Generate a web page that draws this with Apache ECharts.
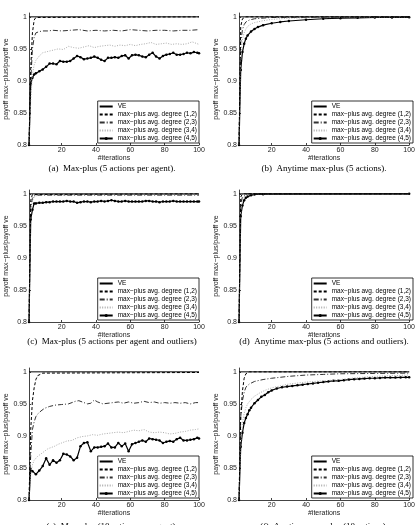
<!DOCTYPE html>
<html>
<head>
<meta charset="utf-8">
<script src="https://cdn.jsdelivr.net/npm/echarts@6/dist/echarts.min.js"></script>
<style>
html, body { margin: 0; padding: 0; background: #fff; }
#main { width: 418px; height: 525px; }
</style>
</head>
<body>
<div id="main"></div>
<script>
// 图例名称
var seriesNames = ['VE', 'max−plus avg. degree (1,2)', 'max−plus avg. degree (2,3)', 'max−plus avg. degree (3,4)', 'max−plus avg. degree (4,5)'];
var xTicks = [20, 40, 60, 80, 100];
var captions = [
	'(a)  Max-plus (5 actions per agent).',
	'(b)  Anytime max-plus (5 actions).',
	'(c)  Max-plus (5 actions per agent and outliers)',
	'(d)  Anytime max-plus (5 actions and outliers).',
	'(e)  Max-plus (10 actions per agent).',
	'(f)  Anytime max-plus (10 actions).'
];

// VE
var veLine = [[1, 1], [100, 1]];

// (a) Max-plus 5 actions
var aDeg12 = [[1, 0.8], [2, 0.92], [3, 0.975], [4, 0.995], [5, 0.999], [6, 1], [100, 1]];
var aDeg23 = [[1, 0.8], [2, 0.9], [3, 0.95], [4, 0.968], [5, 0.975], [7, 0.977], [9, 0.978], [12, 0.978], [15, 0.979], [20, 0.978], [25, 0.979], [30, 0.98], [35, 0.978], [40, 0.979], [45, 0.978], [50, 0.979], [55, 0.978], [60, 0.98], [65, 0.979], [70, 0.978], [75, 0.979], [80, 0.979], [85, 0.978], [90, 0.979], [95, 0.979], [100, 0.98]];
var aDeg34 = [[1, 0.8], [2, 0.87], [3, 0.91], [4, 0.925], [5, 0.932], [7, 0.939], [9, 0.944], [12, 0.946], [15, 0.948], [18, 0.95], [21, 0.949], [24, 0.954], [27, 0.952], [30, 0.951], [33, 0.953], [36, 0.955], [39, 0.952], [42, 0.954], [45, 0.955], [48, 0.956], [51, 0.954], [54, 0.956], [57, 0.955], [60, 0.957], [63, 0.955], [66, 0.957], [69, 0.958], [72, 0.96], [75, 0.957], [78, 0.958], [81, 0.959], [84, 0.957], [87, 0.958], [90, 0.957], [93, 0.958], [96, 0.961], [100, 0.957]];
var aDeg45 = [[1, 0.8], [2, 0.895], [3, 0.905], [4, 0.91], [5, 0.912], [7, 0.915], [9, 0.918], [11, 0.922], [13, 0.927], [15, 0.927], [17, 0.926], [19, 0.931], [21, 0.93], [23, 0.93], [25, 0.931], [27, 0.935], [29, 0.939], [31, 0.937], [33, 0.934], [35, 0.935], [37, 0.936], [39, 0.938], [41, 0.936], [43, 0.933], [45, 0.931], [47, 0.936], [49, 0.936], [51, 0.937], [53, 0.936], [55, 0.939], [57, 0.94], [59, 0.935], [61, 0.94], [63, 0.941], [65, 0.94], [67, 0.938], [69, 0.937], [71, 0.941], [73, 0.944], [75, 0.938], [77, 0.935], [79, 0.939], [81, 0.941], [83, 0.942], [85, 0.944], [87, 0.941], [89, 0.941], [91, 0.942], [93, 0.944], [95, 0.943], [97, 0.945], [99, 0.944], [100, 0.943]];

// (b) Anytime max-plus 5 actions
var bDeg12 = [[1, 0.8], [2, 0.985], [3, 0.997], [4, 0.999], [5, 1], [100, 1]];
var bDeg23 = [[1, 0.8], [2, 0.96], [3, 0.98], [4, 0.988], [5, 0.992], [7, 0.995], [10, 0.997], [15, 0.998], [20, 0.999], [40, 0.9995], [100, 1]];
var bDeg34 = [[1, 0.8], [2, 0.94], [3, 0.965], [4, 0.975], [5, 0.981], [6, 0.985], [8, 0.989], [10, 0.991], [15, 0.994], [20, 0.996], [30, 0.998], [40, 0.9985], [60, 0.999], [100, 0.9995]];
var bDeg45 = [[1, 0.8], [2, 0.917], [3, 0.945], [4, 0.958], [5, 0.966], [6, 0.971], [8, 0.977], [10, 0.981], [12, 0.984], [15, 0.987], [20, 0.99], [25, 0.992], [30, 0.9935], [40, 0.9955], [50, 0.997], [60, 0.998], [70, 0.9985], [80, 0.999], [90, 0.999], [100, 0.9992]];

// (c) Max-plus 5 actions + outliers
var cDeg12 = [[1, 0.8], [2, 0.99], [3, 0.999], [100, 1]];
var cDeg23 = [[1, 0.8], [2, 0.98], [3, 0.993], [4, 0.997], [6, 0.998], [100, 0.998]];
var cDeg34 = [[1, 0.8], [2, 0.975], [3, 0.99], [4, 0.995], [6, 0.998], [10, 0.999], [20, 0.998], [30, 0.999], [50, 0.999], [100, 0.999]];
var cDeg45 = [[1, 0.8], [2, 0.96], [3, 0.975], [4, 0.985], [5, 0.985], [7, 0.986], [9, 0.986], [11, 0.987], [13, 0.987], [15, 0.988], [17, 0.988], [19, 0.988], [21, 0.988], [23, 0.989], [25, 0.988], [27, 0.988], [29, 0.986], [31, 0.987], [33, 0.988], [35, 0.988], [37, 0.987], [39, 0.988], [41, 0.988], [43, 0.989], [45, 0.988], [47, 0.989], [49, 0.99], [51, 0.989], [53, 0.988], [55, 0.988], [57, 0.989], [59, 0.988], [61, 0.988], [63, 0.988], [65, 0.988], [67, 0.988], [69, 0.989], [71, 0.989], [73, 0.988], [75, 0.988], [77, 0.987], [79, 0.988], [81, 0.988], [83, 0.988], [85, 0.989], [87, 0.988], [89, 0.988], [91, 0.988], [93, 0.988], [95, 0.988], [97, 0.988], [99, 0.988], [100, 0.988]];

// (d) Anytime max-plus 5 actions + outliers
var dDeg12 = [[1, 0.8], [2, 0.995], [3, 1], [100, 1]];
var dDeg23 = [[1, 0.8], [2, 0.985], [3, 0.995], [4, 0.998], [6, 1], [100, 1]];
var dDeg34 = [[1, 0.8], [2, 0.975], [3, 0.99], [4, 0.995], [5, 0.997], [7, 0.999], [10, 1], [100, 1]];
var dDeg45 = [[1, 0.8], [2, 0.965], [3, 0.982], [4, 0.99], [5, 0.994], [6, 0.996], [8, 0.998], [10, 0.999], [15, 0.9995], [100, 1]];

// (e) Max-plus 10 actions
var eDeg12 = [[1, 0.8], [2, 0.91], [3, 0.955], [4, 0.975], [5, 0.988], [6, 0.994], [7, 0.997], [9, 0.998], [100, 0.999]];
var eDeg23 = [[1, 0.8], [2, 0.87], [3, 0.91], [4, 0.922], [5, 0.93], [6, 0.934], [8, 0.939], [10, 0.943], [13, 0.946], [16, 0.948], [20, 0.949], [24, 0.95], [28, 0.954], [30, 0.955], [32, 0.953], [35, 0.95], [37, 0.951], [39, 0.956], [41, 0.953], [44, 0.95], [47, 0.951], [50, 0.952], [53, 0.953], [56, 0.951], [59, 0.953], [62, 0.951], [65, 0.952], [68, 0.954], [71, 0.952], [74, 0.953], [77, 0.951], [80, 0.952], [83, 0.951], [86, 0.952], [89, 0.951], [92, 0.952], [95, 0.95], [98, 0.952], [100, 0.952]];
var eDeg34 = [[1, 0.8], [2, 0.84], [3, 0.855], [4, 0.862], [6, 0.868], [8, 0.872], [10, 0.876], [12, 0.88], [14, 0.882], [16, 0.884], [18, 0.887], [20, 0.889], [23, 0.892], [26, 0.893], [29, 0.897], [32, 0.899], [35, 0.9], [38, 0.902], [41, 0.901], [44, 0.903], [47, 0.904], [50, 0.905], [53, 0.906], [56, 0.905], [59, 0.907], [62, 0.909], [65, 0.908], [68, 0.91], [71, 0.906], [74, 0.905], [77, 0.906], [80, 0.905], [83, 0.903], [86, 0.904], [89, 0.906], [92, 0.907], [95, 0.909], [98, 0.91], [100, 0.911]];
var eDeg45 = [[1, 0.8], [2, 0.848], [3, 0.845], [5, 0.84], [7, 0.846], [9, 0.853], [11, 0.865], [13, 0.855], [15, 0.862], [17, 0.858], [19, 0.862], [21, 0.872], [23, 0.871], [25, 0.868], [27, 0.862], [29, 0.866], [31, 0.884], [33, 0.889], [35, 0.89], [37, 0.876], [39, 0.882], [41, 0.882], [43, 0.883], [45, 0.884], [47, 0.888], [49, 0.882], [51, 0.882], [53, 0.889], [55, 0.884], [57, 0.888], [59, 0.876], [61, 0.887], [63, 0.889], [65, 0.891], [67, 0.893], [69, 0.891], [71, 0.896], [73, 0.895], [75, 0.894], [77, 0.893], [79, 0.889], [81, 0.891], [83, 0.892], [85, 0.891], [87, 0.895], [89, 0.897], [91, 0.893], [93, 0.893], [95, 0.894], [97, 0.895], [99, 0.897], [100, 0.896]];

// (f) Anytime max-plus 10 actions
var fDeg12 = [[1, 0.8], [2, 0.93], [3, 0.97], [4, 0.99], [5, 0.997], [7, 1], [100, 1]];
var fDeg23 = [[1, 0.8], [2, 0.93], [3, 0.955], [4, 0.968], [5, 0.976], [7, 0.981], [10, 0.985], [15, 0.988], [20, 0.99], [30, 0.993], [40, 0.995], [50, 0.996], [60, 0.997], [80, 0.9975], [100, 0.998]];
var fDeg34 = [[1, 0.8], [2, 0.89], [3, 0.92], [4, 0.935], [5, 0.944], [6, 0.95], [8, 0.957], [10, 0.962], [13, 0.967], [16, 0.971], [20, 0.975], [25, 0.978], [30, 0.981], [40, 0.984], [50, 0.986], [60, 0.988], [70, 0.991], [80, 0.993], [90, 0.994], [100, 0.995]];
var fDeg45 = [[1, 0.8], [2, 0.883], [3, 0.905], [4, 0.92], [5, 0.928], [6, 0.934], [7, 0.94], [8, 0.944], [10, 0.951], [12, 0.956], [14, 0.961], [16, 0.964], [18, 0.968], [20, 0.971], [23, 0.974], [26, 0.976], [29, 0.977], [32, 0.978], [35, 0.979], [38, 0.98], [41, 0.981], [44, 0.982], [47, 0.983], [50, 0.984], [53, 0.985], [56, 0.986], [59, 0.986], [62, 0.987], [65, 0.988], [68, 0.9886], [71, 0.989], [74, 0.9895], [77, 0.99], [80, 0.99], [83, 0.9905], [86, 0.991], [89, 0.991], [92, 0.991], [95, 0.9913], [98, 0.9915], [100, 0.9915]];

var panelData = [
	[veLine, aDeg12, aDeg23, aDeg34, aDeg45],
	[veLine, bDeg12, bDeg23, bDeg34, bDeg45],
	[veLine, cDeg12, cDeg23, cDeg34, cDeg45],
	[veLine, dDeg12, dDeg23, dDeg34, dDeg45],
	[veLine, eDeg12, eDeg23, eDeg34, eDeg45],
	[veLine, fDeg12, fDeg23, fDeg34, fDeg45]
];

// 每个子图的位置
var boxes = [
	{ left: 29, top: 13, width: 170, height: 132, capY: 169 },
	{ left: 239, top: 13, width: 174, height: 132, capY: 169 },
	{ left: 29, top: 190, width: 170, height: 132, capY: 342 },
	{ left: 239, top: 190, width: 174, height: 132, capY: 342 },
	{ left: 29, top: 368, width: 170, height: 132, capY: 527 },
	{ left: 239, top: 368, width: 174, height: 132, capY: 527 }
];

var lineStyles = [
	{ color: '#000', width: 1, type: 'solid' },
	{ color: '#000', width: 1, type: [3, 2] },
	{ color: '#333', width: 1, type: [5, 2, 1, 2] },
	{ color: '#aaa', width: 1, type: [1, 1.5] },
	{ color: '#000', width: 1.2, type: 'solid' }
];

// 图例：只有 (4,5) 显示圆点
var legendItems = seriesNames.map(function (n, k) {
	return k === 4 ? { name: n } : { name: n, itemStyle: { opacity: 0 } };
});

var font = 'Liberation Sans';
var grids = [], xAxes = [], yAxes = [], legends = [], series = [], graphics = [];

boxes.forEach(function (b, i) {
	grids.push({ left: b.left, top: b.top, width: b.width, height: b.height });
	xAxes.push({
		type: 'value', gridIndex: i, min: 1, max: 100,
		name: '#iterations', nameLocation: 'middle', nameGap: 8,
		nameTextStyle: { fontFamily: font, fontSize: 7, color: '#222' },
		axisLine: { lineStyle: { color: '#444', width: 1 } },
		axisTick: { inside: true, length: 2, customValues: xTicks, lineStyle: { color: '#444' } },
		axisLabel: { customValues: xTicks, margin: 2, fontFamily: font, fontSize: 7, color: '#222' },
		splitLine: { show: false }
	});
	yAxes.push({
		type: 'value', gridIndex: i, min: 0.8, max: 1.006, interval: 0.05,
		name: 'payoff max−plus/payoff ve', nameLocation: 'middle', nameGap: 16, nameRotate: 90,
		nameTextStyle: { fontFamily: font, fontSize: 7, color: '#222' },
		axisLine: { lineStyle: { color: '#444', width: 1 } },
		axisTick: { inside: true, length: 2, lineStyle: { color: '#444' } },
		axisLabel: { showMaxLabel: false, margin: 2, fontFamily: font, fontSize: 7, color: '#222' },
		splitLine: { show: false }
	});
	legends.push({
		data: legendItems,
		orient: 'vertical',
		right: 418 - (b.left + b.width),
		top: b.top + b.height - 44,
		itemWidth: 13, itemHeight: 4, itemGap: 1,
		padding: [2, 2, 1, 1],
		borderColor: '#000', borderWidth: 0.8, borderRadius: 0,
		backgroundColor: '#fff',
		selectedMode: false,
		textStyle: { fontFamily: font, fontSize: 6.5, lineHeight: 6.5, color: '#000' }
	});
	panelData[i].forEach(function (d, k) {
		series.push({
			name: seriesNames[k],
			type: 'line',
			xAxisIndex: i, yAxisIndex: i,
			data: d,
			symbol: k === 4 ? 'circle' : 'none',
			symbolSize: 2.5,
			itemStyle: { color: '#000' },
			lineStyle: lineStyles[k],
			z: 10 - k,
			animation: false
		});
	});
	graphics.push({
		type: 'text',
		x: b.left + b.width / 2 - 2,
		y: b.capY,
		style: {
			text: captions[i], align: 'center', verticalAlign: 'middle',
			font: '9px "Liberation Serif"', fill: '#000'
		}
	});
});

var myChart = echarts.init(document.getElementById('main'));
myChart.setOption({
	backgroundColor: '#fff',
	animation: false,
	grid: grids,
	xAxis: xAxes,
	yAxis: yAxes,
	legend: legends,
	series: series,
	graphic: graphics
});
</script>
</body>
</html>
